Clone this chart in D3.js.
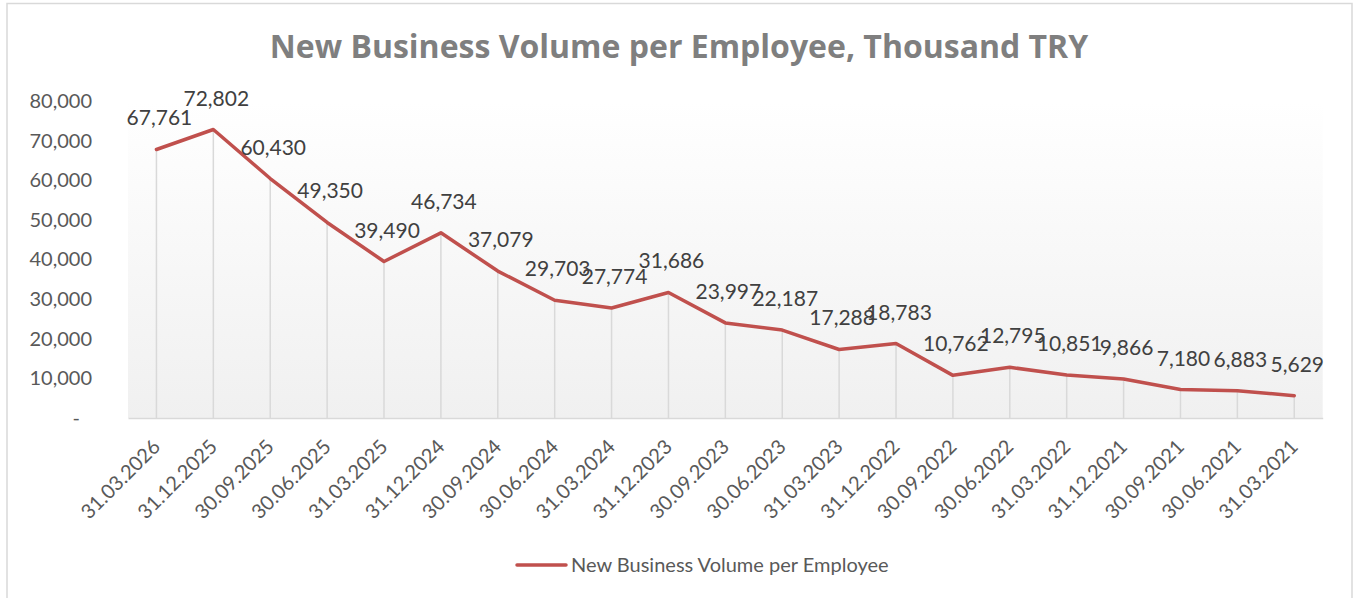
<!DOCTYPE html>
<html>
<head>
<meta charset="utf-8">
<script src="https://cdn.jsdelivr.net/npm/d3@7"></script>
<style>
  body { margin: 0; background: #fff; }
  svg { display: block; font-family: Lato, "Open Sans", sans-serif; }
</style>
</head>
<body>
<div id="chart"></div>
<script>
// quarter-end dates, newest first (as in the source)
var categories = ["31.03.2026", "31.12.2025", "30.09.2025", "30.06.2025", "31.03.2025",
  "31.12.2024", "30.09.2024", "30.06.2024", "31.03.2024", "31.12.2023", "30.09.2023",
  "30.06.2023", "31.03.2023", "31.12.2022", "30.09.2022", "30.06.2022", "31.03.2022",
  "31.12.2021", "30.09.2021", "30.06.2021", "31.03.2021"];

var values = [67761, 72802, 60430, 49350, 39490, 46734, 37079, 29703, 27774, 31686,
  23997, 22187, 17288, 18783, 10762, 12795, 10851, 9866, 7180, 6883, 5629];

var yTicks = [0, 10000, 20000, 30000, 40000, 50000, 60000, 70000, 80000];

var seriesName = "New Business Volume per Employee";
var title = "New Business Volume per Employee, Thousand TRY";

var width = 1359,
    height = 598,
    plot = { left: 128, right: 1322.7, top: 101, bottom: 418 },
    lineColor = "#c0504d",
    textColor = "#595959";

var svg = d3.select("#chart").append("svg")
  .attr("width", width)
  .attr("height", height);

// chart frame
svg.append("rect")
  .attr("x", 7).attr("y", 3.5)
  .attr("width", 1345).attr("height", 620)
  .attr("fill", "#fff")
  .attr("stroke", "#d9d9d9")
  .attr("stroke-width", 1.5);

var defs = svg.append("defs");
var grad = defs.append("linearGradient")
  .attr("id", "plotFill")
  .attr("x1", 0).attr("y1", 0).attr("x2", 0).attr("y2", 1);
grad.append("stop").attr("offset", "0%").attr("stop-color", "#ffffff");
grad.append("stop").attr("offset", "100%").attr("stop-color", "#f0f0f0");

var x = d3.scaleBand()
  .domain(categories)
  .range([plot.left, plot.right]);

var y = d3.scaleLinear()
  .domain([0, 80000])
  .range([plot.bottom, plot.top]);

svg.append("rect")
  .attr("x", plot.left).attr("y", plot.top)
  .attr("width", plot.right - plot.left)
  .attr("height", plot.bottom - plot.top)
  .attr("fill", "url(#plotFill)");

function cx(d) {
  return x(d) + x.bandwidth() / 2;
}

// drop lines
svg.append("g")
  .selectAll("line")
  .data(categories)
  .join("line")
  .attr("x1", cx).attr("x2", cx)
  .attr("y1", function (d, i) { return y(values[i]); })
  .attr("y2", plot.bottom)
  .attr("stroke", "#d9d9d9")
  .attr("stroke-width", 1.5);

// y axis
var yAxis = svg.append("g")
  .attr("transform", "translate(" + plot.left + ",0)")
  .call(d3.axisLeft(y)
    .tickValues(yTicks)
    .tickSize(0)
    .tickPadding(36)
    .tickFormat(function (d) { return d === 0 ? "-" : d3.format(",")(d); }));
yAxis.select(".domain").remove();
yAxis.selectAll("text")
  .attr("font-size", 20)
  .attr("font-family", "Lato, sans-serif")
  .attr("fill", textColor)
  .attr("dx", function (d) { return d === 0 ? -12 : 0; });

// x axis
var xAxis = svg.append("g")
  .attr("transform", "translate(0," + plot.bottom + ")")
  .call(d3.axisBottom(x).tickSize(0));
xAxis.select(".domain")
  .attr("stroke", "#d9d9d9")
  .attr("stroke-width", 1.5);
xAxis.selectAll("text")
  .attr("font-size", 20)
  .attr("font-family", "Lato, sans-serif")
  .attr("fill", textColor)
  .attr("x", 0).attr("y", 0).attr("dy", 0)
  .attr("text-anchor", "end")
  .attr("transform", "translate(5,30) rotate(-45)");

// series line
var line = d3.line()
  .x(function (d, i) { return cx(categories[i]); })
  .y(function (d) { return y(d); });

svg.append("path")
  .datum(values)
  .attr("d", line)
  .attr("fill", "none")
  .attr("stroke", lineColor)
  .attr("stroke-width", 3.5)
  .attr("stroke-linejoin", "round")
  .attr("stroke-linecap", "round");

// data labels
svg.append("g")
  .selectAll("text")
  .data(values)
  .join("text")
  .attr("x", function (d, i) { return cx(categories[i]) + 3; })
  .attr("y", function (d) { return y(d) - 24; })
  .attr("text-anchor", "middle")
  .attr("font-size", 21)
  .attr("fill", "#404040")
  .text(function (d) { return d3.format(",")(d); });

// title
svg.append("text")
  .attr("x", 679)
  .attr("y", 58)
  .attr("text-anchor", "middle")
  .attr("font-family", "'Open Sans', sans-serif")
  .attr("font-size", 32)
  .attr("font-weight", "bold")
  .attr("fill", "#7f7f7f")
  .text(title);

// legend
var legend = svg.append("g").attr("transform", "translate(517,565)");
legend.append("line")
  .attr("x1", 0).attr("x2", 49)
  .attr("y1", 0).attr("y2", 0)
  .attr("stroke", lineColor)
  .attr("stroke-width", 3.5)
  .attr("stroke-linecap", "round");
legend.append("text")
  .attr("x", 54)
  .attr("y", 0)
  .attr("dy", "0.35em")
  .attr("font-size", 20)
  .attr("fill", textColor)
  .text(seriesName);
</script>
</body>
</html>
